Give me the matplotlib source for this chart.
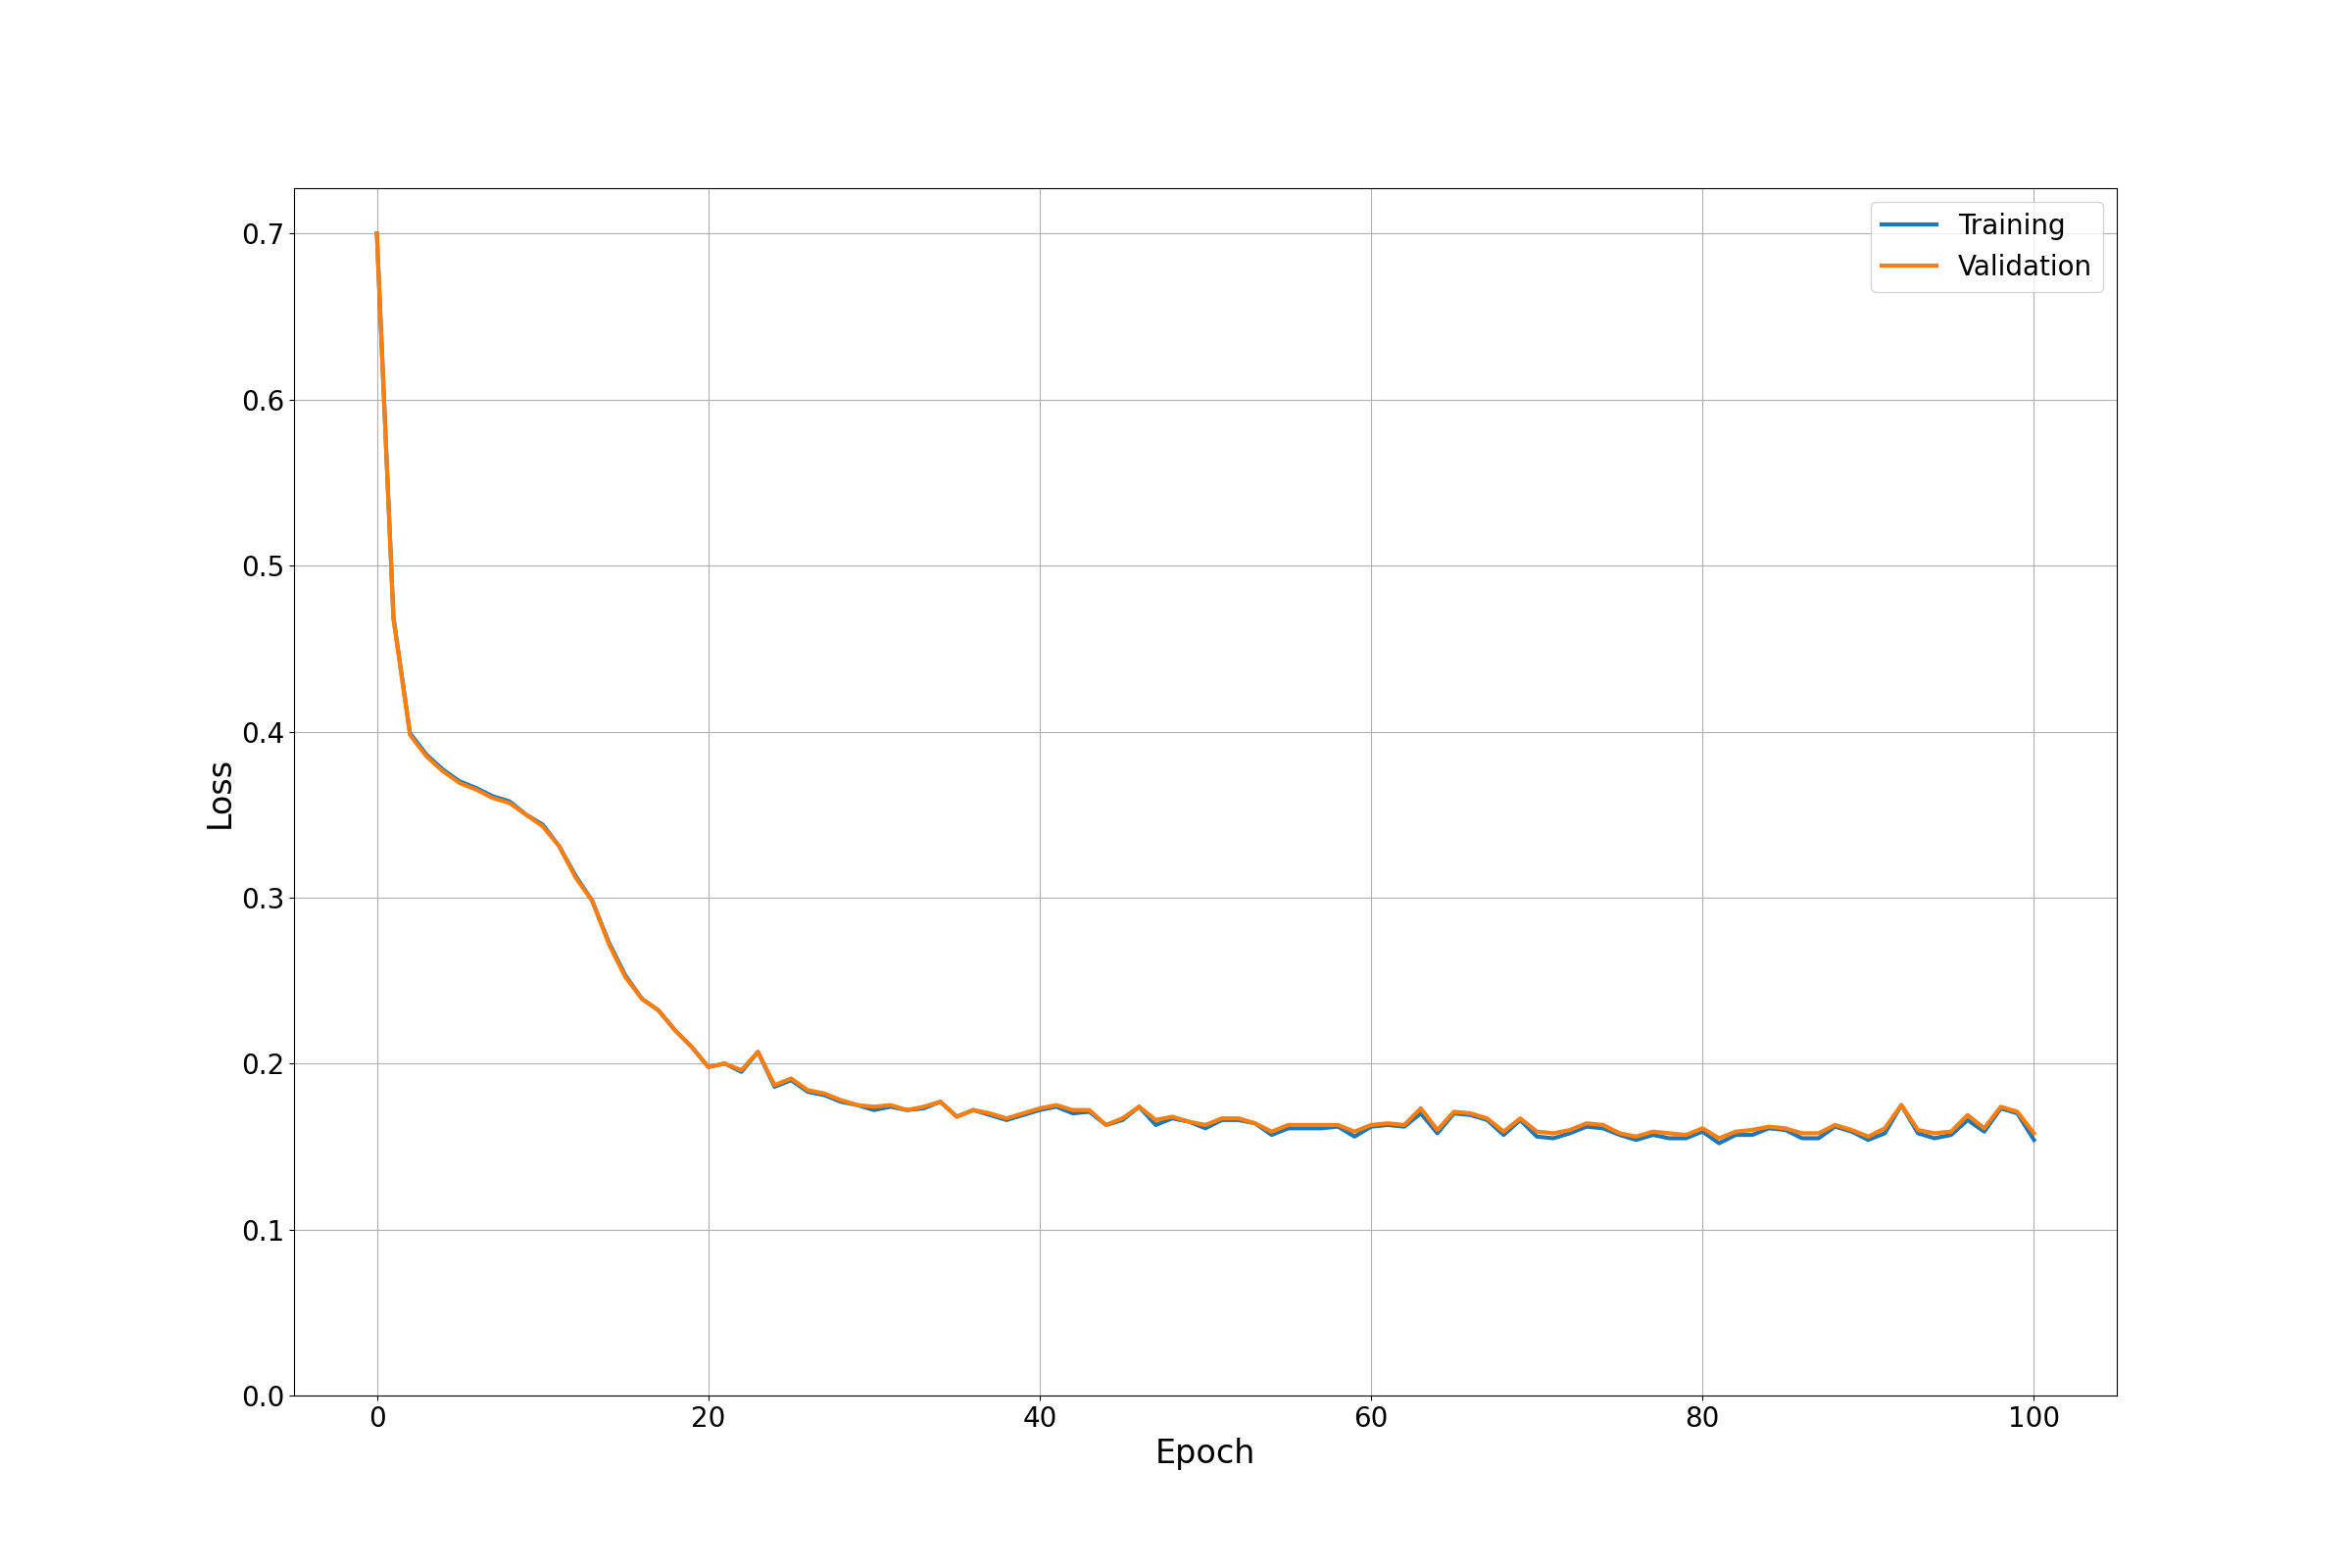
import matplotlib
matplotlib.use("Agg")
import matplotlib.pyplot as plt

epochs = list(range(101))

train_loss = [
    0.700, 0.469, 0.399, 0.386, 0.377, 0.370, 0.366, 0.361, 0.358, 0.350,
    0.344, 0.331, 0.313, 0.298, 0.273, 0.253, 0.239, 0.232, 0.220, 0.210,
    0.198, 0.200, 0.195, 0.207, 0.186, 0.190, 0.183, 0.181, 0.177, 0.175,
    0.172, 0.174, 0.172, 0.173, 0.177, 0.168, 0.172, 0.169, 0.166, 0.169,
    0.172, 0.174, 0.170, 0.171, 0.163, 0.166, 0.174, 0.163, 0.167, 0.165,
    0.161, 0.166, 0.166, 0.164, 0.157, 0.161, 0.161, 0.161, 0.162, 0.156,
    0.162, 0.163, 0.162, 0.170, 0.158, 0.170, 0.169, 0.166, 0.157, 0.166,
    0.156, 0.155, 0.158, 0.162, 0.161, 0.157, 0.154, 0.157, 0.155, 0.155,
    0.159, 0.152, 0.157, 0.157, 0.161, 0.160, 0.155, 0.155, 0.162, 0.159,
    0.154, 0.158, 0.175, 0.158, 0.155, 0.157, 0.166, 0.159, 0.173, 0.170,
    0.154,
]

val_loss = [
    0.700, 0.468, 0.398, 0.385, 0.376, 0.369, 0.365, 0.360, 0.357, 0.350,
    0.343, 0.331, 0.312, 0.298, 0.272, 0.252, 0.239, 0.232, 0.220, 0.210,
    0.198, 0.200, 0.196, 0.207, 0.187, 0.191, 0.184, 0.182, 0.178, 0.175,
    0.174, 0.175, 0.172, 0.174, 0.177, 0.168, 0.172, 0.170, 0.167, 0.170,
    0.173, 0.175, 0.172, 0.172, 0.163, 0.167, 0.174, 0.166, 0.168, 0.165,
    0.163, 0.167, 0.167, 0.164, 0.159, 0.163, 0.163, 0.163, 0.163, 0.159,
    0.163, 0.164, 0.163, 0.173, 0.160, 0.171, 0.170, 0.167, 0.159, 0.167,
    0.159, 0.158, 0.160, 0.164, 0.163, 0.158, 0.156, 0.159, 0.158, 0.157,
    0.161, 0.155, 0.159, 0.160, 0.162, 0.161, 0.158, 0.158, 0.163, 0.160,
    0.156, 0.161, 0.175, 0.160, 0.158, 0.159, 0.169, 0.161, 0.174, 0.171,
    0.158,
]

fig, ax = plt.subplots(figsize=(24, 16), dpi=100)
ax.plot(epochs, train_loss, linewidth=3, label='Training')
ax.plot(epochs, val_loss, linewidth=3, label='Validation')
ax.set_xlabel('Epoch', fontsize=24)
ax.set_ylabel('Loss', fontsize=24)
ax.set_ylim(bottom=0)
ax.tick_params(labelsize=20)
ax.grid(True)
ax.legend(fontsize=20, loc='upper right')
fig.savefig('out.png', dpi=100)
